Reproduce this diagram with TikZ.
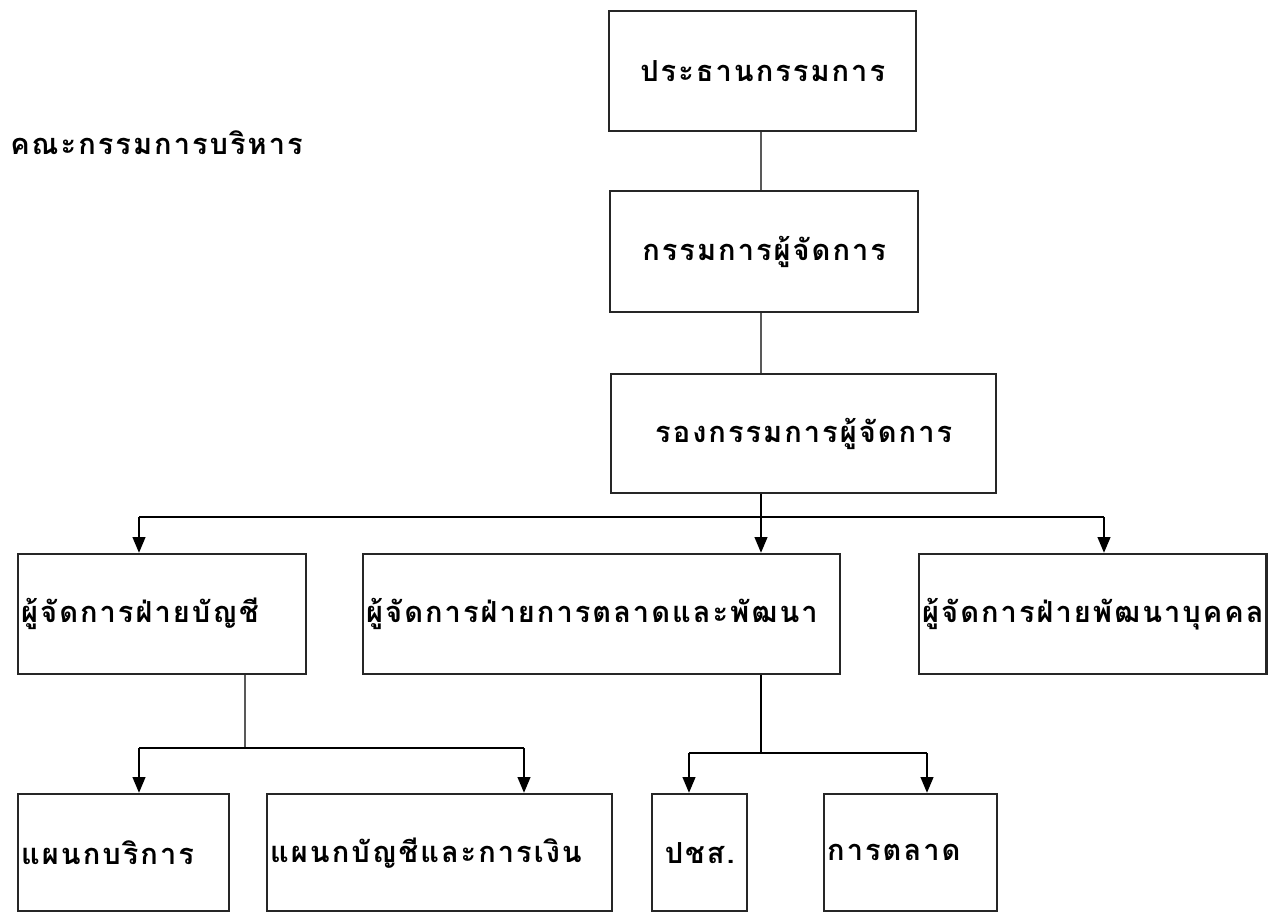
\documentclass[tikz,border=0pt]{standalone}
\usepackage{fontspec}
\newfontfamily\thaifont[Script=Thai, LetterSpace=7]{Loma}
\usetikzlibrary{arrows.meta,calc}
\tikzstyle{box} = [rectangle, draw=black!85, line width=1.4pt, anchor=north west, inner xsep=0.06cm, font=\thaifont\bfseries\fontsize{16.5}{19}\selectfont]
\tikzstyle{leftbox} = [box, align=left]
\tikzstyle{link} = [draw=black!65, line width=1pt]
\tikzstyle{bar} = [draw=black, line width=1.6pt]
\tikzstyle{arrow} = [bar, -{Triangle[length=9pt,width=7pt]}]

\begin{document}
\begin{tikzpicture}[x=0.02cm, y=-0.02cm]
      \useasboundingbox (0,0) rectangle (1268,916);
      % top of the chart
      \node (pres)[box, minimum width=6.14cm, minimum height=2.4cm] at (608,10){ประธานกรรมการ};
      \node (board)[anchor=west, font=\thaifont\bfseries\fontsize{16.5}{19}\selectfont, inner sep=0pt] at (10,143){คณะกรรมการบริหาร};
      \node (md)[box, minimum width=6.16cm, minimum height=2.42cm] at (609,190){กรรมการผู้จัดการ};
      \node (dmd)[box, minimum width=7.7cm, minimum height=2.38cm] at (610,373){รองกรรมการผู้จัดการ};
      % managers
      \node (acc)[leftbox, text width=5.64cm, minimum height=2.4cm] at (17,553){ผู้จัดการฝ่ายบัญชี};
      \node (mkt)[leftbox, text width=9.42cm, minimum height=2.4cm] at (362,553){ผู้จัดการฝ่ายการตลาดและพัฒนา};
      \node (hr)[box, minimum width=6.9cm, minimum height=2.4cm] at (918,553){ผู้จัดการฝ่ายพัฒนาบุคคล};
      % sections
      \node (svc)[leftbox, text width=4.1cm, minimum height=2.34cm] at (17,793){แผนกบริการ};
      \node (fin)[leftbox, text width=6.78cm, minimum height=2.34cm] at (266,793){แผนกบัญชีและการเงิน};
      \node (pr)[box, minimum width=1.9cm, minimum height=2.34cm] at (651,793){ปชส.};
      \node (mk)[leftbox, text width=3.34cm, minimum height=2.34cm] at (823,793){การตลาด};
      % connectors
      \coordinate (hub) at (761,517);
      \coordinate (hubL) at (139,517);
      \coordinate (hubR) at (1104,517);
      \coordinate (accdrop) at (245,748);
      \coordinate (accL) at (139,748);
      \coordinate (accR) at (524,748);
      \coordinate (mktdrop) at (761,753);
      \coordinate (mktL) at (689,753);
      \coordinate (mktR) at (927,753);
      \draw[link] (pres.south -| hub) -- (md.north -| hub);
      \draw[link] (md.south -| hub) -- (dmd.north -| hub);
      \draw[bar] (dmd.south -| hub) -- (hub);
      \draw[bar] (hubL) -- (hubR);
      \draw[arrow] (hubL) -- (hubL |- acc.north);
      \draw[arrow] (hub) -- (hub |- mkt.north);
      \draw[arrow] (hubR) -- (hubR |- hr.north);
      \draw[link] (acc.south -| accdrop) -- (accdrop);
      \draw[bar] (accL) -- (accR);
      \draw[arrow] (accL) -- (accL |- svc.north);
      \draw[arrow] (accR) -- (accR |- fin.north);
      \draw[bar] (mkt.south -| mktdrop) -- (mktdrop);
      \draw[bar] (mktL) -- (mktR);
      \draw[arrow] (mktL) -- (mktL |- pr.north);
      \draw[arrow] (mktR) -- (mktR |- mk.north);
\end{tikzpicture}
\end{document}
